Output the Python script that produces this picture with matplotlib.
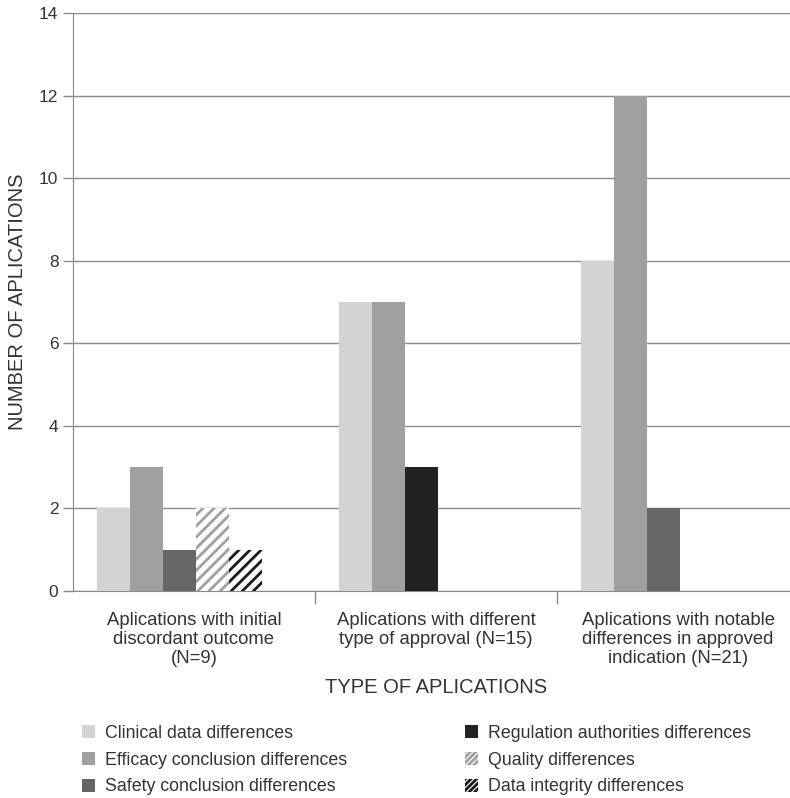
import matplotlib.pyplot as plt
from matplotlib.patches import Patch

categories = ["Aplications with initial\ndiscordant outcome\n(N=9)",
              "Aplications with different\ntype of approval (N=15)",
              "Aplications with notable\ndifferences in approved\nindication (N=21)"]
series = ["Clinical data differences", "Efficacy conclusion differences",
          "Safety conclusion differences", "Regulation authorities differences",
          "Quality differences", "Data integrity differences"]
clinical = [2, 7, 8]
efficacy = [3, 7, 12]
safety = [1, 0, 2]
regulation = [0, 3, 0]
quality = [2, 0, 0]
integrity = [1, 0, 0]
values = [clinical, efficacy, safety, regulation, quality, integrity]

# style per series: facecolor, hatch, hatch color
styles = [("#d3d3d3", None, None),
          ("#a0a0a0", None, None),
          ("#666666", None, None),
          ("#222222", None, None),
          ("white", "///", "#a0a0a0"),
          ("white", "///", "#1a1a1a")]

plt.rcParams['font.family'] = ['Liberation Sans', 'DejaVu Sans']
plt.rcParams['hatch.linewidth'] = 2.0

fig = plt.figure(figsize=(7.9, 7.98), dpi=100)
ax = fig.add_axes([0.0924, 0.2594, 0.919, 0.7243])

w = 0.136
start = -0.40
slot = [0, 0, 0]  # bars are packed per group, zeros skipped
handles = []
for vals, name, (fc, hatch, hc) in zip(values, series, styles):
    xs, hs = [], []
    for i, v in enumerate(vals):
        if v > 0:
            xs.append(i + start + slot[i] * w + w / 2)
            hs.append(v)
            slot[i] += 1
    if hatch:
        ax.bar(xs, hs, width=w, color=fc, hatch=hatch, edgecolor=hc,
               linewidth=0, zorder=3)
        handles.append(Patch(facecolor=fc, edgecolor=hc, hatch="//////",
                             linewidth=0, label=name))
    else:
        ax.bar(xs, hs, width=w, color=fc, linewidth=0, zorder=3)
        handles.append(Patch(facecolor=fc, linewidth=0, label=name))

ax.set_xlim(-0.5, 2.5)
ax.set_ylim(0, 14)
ax.set_yticks(range(0, 15, 2))
ax.yaxis.grid(True, color="#8a8a8a", linewidth=1.0, zorder=0)
ax.set_axisbelow(True)
for s in ["top", "right"]:
    ax.spines[s].set_visible(False)
for s in ["left", "bottom"]:
    ax.spines[s].set_color("#8a8a8a")
ax.tick_params(axis='y', colors="#8a8a8a", labelcolor="#333333", labelsize=12.5,
               length=7, width=1)
ax.set_xticks([0, 1, 2])
ax.set_xticklabels(categories, fontsize=13.3, color="#333333", linespacing=1.15)
ax.tick_params(axis='x', which='major', length=0, pad=15)
ax.set_xticks([0.5, 1.5], minor=True)
ax.tick_params(axis='x', which='minor', length=9, color="#8a8a8a", width=1)
ax.set_xlabel("TYPE OF APLICATIONS", fontsize=14.5, color="#333333")
ax.xaxis.set_label_coords(0.5, -0.15)
ax.set_ylabel("NUMBER OF APLICATIONS", fontsize=14.5, color="#333333")
ax.yaxis.set_label_coords(-0.064, 0.5)

fig.legend(handles=handles, loc="upper left", bbox_to_anchor=(0.0835, 0.1115),
           ncol=2, frameon=False, fontsize=12.75, handlelength=0.73,
           handleheight=0.73, handletextpad=0.56, columnspacing=6.67,
           labelspacing=0.55, labelcolor="#333333")

fig.savefig("out.png", dpi=100)
